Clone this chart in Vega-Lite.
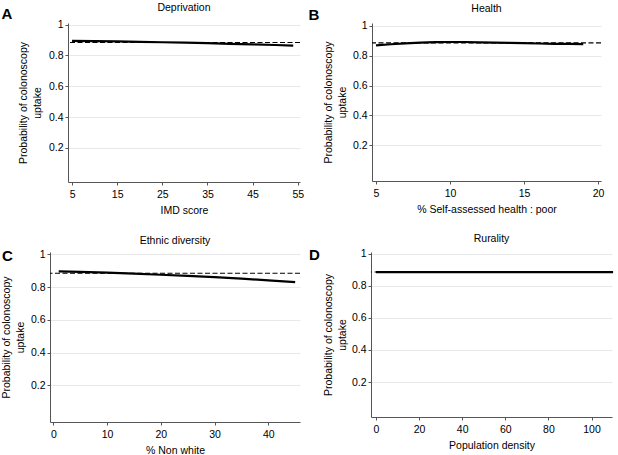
{
  "$schema": "https://vega.github.io/schema/vega-lite/v6.json",
  "padding": {"top": 3, "left": 0, "right": 0, "bottom": 0},
  "background": "white",
  "datasets": {
    "dep": [
      {"series": "mean", "p": 0.884},
      {"series": "fit", "x": 5, "p": 0.895},
      {"series": "fit", "x": 10, "p": 0.893},
      {"series": "fit", "x": 15, "p": 0.891},
      {"series": "fit", "x": 20, "p": 0.889},
      {"series": "fit", "x": 25, "p": 0.886},
      {"series": "fit", "x": 30, "p": 0.883},
      {"series": "fit", "x": 35, "p": 0.880},
      {"series": "fit", "x": 40, "p": 0.876},
      {"series": "fit", "x": 45, "p": 0.872},
      {"series": "fit", "x": 50, "p": 0.868},
      {"series": "fit", "x": 54, "p": 0.864}
    ],
    "health": [
      {"series": "mean", "p": 0.885},
      {"series": "fit", "x": 5, "p": 0.869},
      {"series": "fit", "x": 6, "p": 0.876},
      {"series": "fit", "x": 7, "p": 0.882},
      {"series": "fit", "x": 8, "p": 0.887},
      {"series": "fit", "x": 9, "p": 0.890},
      {"series": "fit", "x": 10, "p": 0.891},
      {"series": "fit", "x": 11, "p": 0.891},
      {"series": "fit", "x": 12, "p": 0.889},
      {"series": "fit", "x": 13, "p": 0.887},
      {"series": "fit", "x": 14, "p": 0.885},
      {"series": "fit", "x": 15, "p": 0.883},
      {"series": "fit", "x": 16, "p": 0.881},
      {"series": "fit", "x": 17, "p": 0.879},
      {"series": "fit", "x": 18, "p": 0.878},
      {"series": "fit", "x": 19, "p": 0.877}
    ],
    "eth": [
      {"series": "mean", "p": 0.884},
      {"series": "fit", "x": 1, "p": 0.896},
      {"series": "fit", "x": 5, "p": 0.893},
      {"series": "fit", "x": 10, "p": 0.888},
      {"series": "fit", "x": 15, "p": 0.882},
      {"series": "fit", "x": 20, "p": 0.875},
      {"series": "fit", "x": 25, "p": 0.868},
      {"series": "fit", "x": 30, "p": 0.860},
      {"series": "fit", "x": 35, "p": 0.851},
      {"series": "fit", "x": 40, "p": 0.841},
      {"series": "fit", "x": 45, "p": 0.830}
    ],
    "rur": [
      {"series": "mean", "p": 0.886},
      {"series": "fit", "x": 0, "p": 0.886},
      {"series": "fit", "x": 20, "p": 0.886},
      {"series": "fit", "x": 40, "p": 0.886},
      {"series": "fit", "x": 60, "p": 0.886},
      {"series": "fit", "x": 80, "p": 0.886},
      {"series": "fit", "x": 100, "p": 0.886},
      {"series": "fit", "x": 110, "p": 0.886}
    ]
  },
  "vconcat": [
    {
      "hconcat": [
        {"width": 1, "height": 1, "data": {"values": []}, "mark": "point"},
        {
          "hconcat": [
            {
              "title": {"text": "A", "orient": "left", "angle": 0, "align": "left", "baseline": "top", "anchor": "end", "frame": "bounds", "fontSize": 15, "fontWeight": "bold", "offset": 6, "dy": 4},
              "vconcat": [
                {
                  "width": 232, "height": 159,
                  "title": {"text": "Deprivation", "offset": 6},
                  "data": {"name": "dep"},
                  "encoding": {
                    "y": {"field": "p", "type": "quantitative", "scale": {"domain": [-0.022, 1.011], "nice": false, "zero": false}, "axis": {"values": [0.2, 0.4, 0.6, 0.8, 1], "format": "~g", "labelOverlap": false, "title": ["Probability of colonoscopy", "uptake"], "titlePadding": 6}}
                  },
                  "layer": [
                    {
                      "transform": [{"filter": "datum.series === 'mean'"}],
                      "mark": {"type": "rule", "strokeDash": [5, 2.5], "strokeWidth": 1.1, "color": "#000"}
                    },
                    {
                      "transform": [{"filter": "datum.series === 'fit'"}],
                      "mark": {"type": "line", "strokeWidth": 2.2, "color": "#000"},
                      "encoding": {
                        "x": {"field": "x", "type": "quantitative", "scale": {"domain": [4.1, 55.5], "nice": false, "zero": false}, "axis": {"values": [5, 15, 25, 35, 45, 55], "title": "IMD score"}}
                      }
                    }
                  ]
                }
              ]
            },
            {
              "title": {"text": "B", "orient": "left", "angle": 0, "align": "left", "baseline": "top", "anchor": "end", "frame": "bounds", "fontSize": 15, "fontWeight": "bold", "offset": 4, "dy": 4},
              "vconcat": [
                {
                  "width": 229, "height": 158,
                  "title": {"text": "Health", "offset": 6},
                  "data": {"name": "health"},
                  "encoding": {
                    "y": {"field": "p", "type": "quantitative", "scale": {"domain": [-0.038, 1.018], "nice": false, "zero": false}, "axis": {"values": [0.2, 0.4, 0.6, 0.8, 1], "format": "~g", "labelOverlap": false, "title": ["Probability of colonoscopy", "uptake"], "titlePadding": 5}}
                  },
                  "layer": [
                    {
                      "transform": [{"filter": "datum.series === 'mean'"}],
                      "mark": {"type": "rule", "strokeDash": [5, 2.5], "strokeWidth": 1.1, "color": "#000"}
                    },
                    {
                      "transform": [{"filter": "datum.series === 'fit'"}],
                      "mark": {"type": "line", "strokeWidth": 2.2, "color": "#000"},
                      "encoding": {
                        "x": {"field": "x", "type": "quantitative", "scale": {"domain": [4.73, 20.2], "nice": false, "zero": false}, "axis": {"values": [5, 10, 15, 20], "title": "% Self-assessed health : poor"}}
                      }
                    }
                  ]
                }
              ]
            }
          ],
          "spacing": 4
        }
      ],
      "spacing": 0
    },
    {
      "hconcat": [
        {"width": 1, "height": 1, "data": {"values": []}, "mark": "point"},
        {
          "hconcat": [
            {
              "title": {"text": "C", "orient": "top", "anchor": "start", "frame": "bounds", "baseline": "alphabetic", "fontSize": 15, "fontWeight": "bold", "offset": -40},
              "vconcat": [
                {
                  "width": 250, "height": 170,
                  "title": {"text": "Ethnic diversity", "offset": 3},
                  "data": {"name": "eth"},
                  "encoding": {
                    "y": {"field": "p", "type": "quantitative", "scale": {"domain": [-0.024, 1.014], "nice": false, "zero": false}, "axis": {"values": [0.2, 0.4, 0.6, 0.8, 1], "format": "~g", "labelOverlap": false, "title": ["Probability of colonoscopy", "uptake"], "titlePadding": 4.5}}
                  },
                  "layer": [
                    {
                      "transform": [{"filter": "datum.series === 'mean'"}],
                      "mark": {"type": "rule", "strokeDash": [5, 2.5], "strokeWidth": 1.1, "color": "#000"}
                    },
                    {
                      "transform": [{"filter": "datum.series === 'fit'"}],
                      "mark": {"type": "line", "strokeWidth": 2.2, "color": "#000"},
                      "encoding": {
                        "x": {"field": "x", "type": "quantitative", "scale": {"domain": [-0.62, 45.9], "nice": false, "zero": false}, "axis": {"values": [0, 10, 20, 30, 40], "title": "% Non white"}}
                      }
                    }
                  ]
                }
              ]
            },
            {
              "title": {"text": "D", "orient": "left", "angle": 0, "align": "left", "baseline": "top", "anchor": "end", "frame": "bounds", "fontSize": 15, "fontWeight": "bold", "offset": 4, "dy": 14},
              "vconcat": [
                {
                  "width": 241, "height": 165,
                  "title": {"text": "Rurality", "offset": 4},
                  "data": {"name": "rur"},
                  "encoding": {
                    "y": {"field": "p", "type": "quantitative", "scale": {"domain": [-0.018, 1.011], "nice": false, "zero": false}, "axis": {"values": [0.2, 0.4, 0.6, 0.8, 1], "format": "~g", "labelOverlap": false, "title": ["Probability of colonoscopy", "uptake"], "titlePadding": 3.5}}
                  },
                  "layer": [
                    {
                      "transform": [{"filter": "datum.series === 'mean'"}],
                      "mark": {"type": "rule", "strokeDash": [5, 2.5], "strokeWidth": 1.1, "color": "#000"}
                    },
                    {
                      "transform": [{"filter": "datum.series === 'fit'"}],
                      "mark": {"type": "line", "strokeWidth": 2.2, "color": "#000"},
                      "encoding": {
                        "x": {"field": "x", "type": "quantitative", "scale": {"domain": [-2.3, 109.5], "nice": false, "zero": false}, "axis": {"values": [0, 20, 40, 60, 80, 100], "title": "Population density"}}
                      }
                    }
                  ]
                }
              ]
            }
          ],
          "spacing": 8
        }
      ],
      "spacing": 0
    }
  ],
  "spacing": 18,
  "config": {
    "font": "Liberation Sans",
    "view": {"stroke": null},
    "axis": {
      "labelFont": "Liberation Sans", "labelFontSize": 10.5, "labelColor": "#000",
      "titleFont": "Liberation Sans", "titleFontSize": 10.5, "titleFontWeight": "normal", "titleColor": "#000",
      "tickColor": "#555", "domainColor": "#555", "tickSize": 3, "labelPadding": 2,
      "gridColor": "#e8e8e8", "gridWidth": 1, "labelOverlap": false
    },
    "axisX": {"grid": false, "titlePadding": 5.5, "labelPadding": 4, "labelFlush": false},
    "axisY": {"grid": true, "titleLineHeight": 14},
    "title": {"font": "Liberation Sans", "fontSize": 10.5, "fontWeight": "normal", "color": "#000"}
  }
}
